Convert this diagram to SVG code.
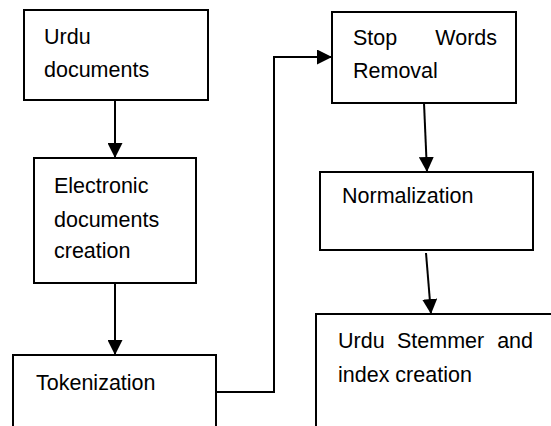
<svg xmlns="http://www.w3.org/2000/svg" width="551" height="426" viewBox="0 0 551 426">
<style>
.box{fill:#fff;stroke:#000;stroke-width:2}
.t{font-family:"Liberation Sans",Arial,sans-serif;font-size:21.5px;fill:#000}
.c{fill:none;stroke:#000;stroke-width:2}
</style>
<defs>
<marker id="ah" markerWidth="15" markerHeight="15" refX="15" refY="7.5" orient="auto" markerUnits="userSpaceOnUse">
<path d="M0,0 L15,7.5 L0,15 Z" fill="#000"/>
</marker>
</defs>
<rect width="551" height="426" fill="#fff"/>
<g id="connectors">
<line class="c" x1="115" y1="100" x2="115" y2="158" marker-end="url(#ah)"/>
<line class="c" x1="115" y1="283" x2="115" y2="355" marker-end="url(#ah)"/>
<polyline class="c" points="216,392 274,392 274,57 332,57" marker-end="url(#ah)"/>
<line class="c" x1="424" y1="103" x2="427" y2="172" marker-end="url(#ah)"/>
<line class="c" x1="426" y1="253" x2="431" y2="314" marker-end="url(#ah)"/>
</g>
<g id="urdu-documents">
<rect class="box" x="24" y="10" width="184" height="90"/>
<text class="t" x="44" y="44">Urdu</text>
<text class="t" x="44" y="77">documents</text>
</g>
<g id="electronic-documents">
<rect class="box" x="34" y="158" width="162" height="125"/>
<text class="t" x="54" y="193">Electronic</text>
<text class="t" x="54" y="227">documents</text>
<text class="t" x="54" y="258">creation</text>
</g>
<g id="tokenization">
<rect class="box" x="13" y="355" width="203" height="100"/>
<text class="t" x="36" y="390">Tokenization</text>
</g>
<g id="stop-words">
<rect class="box" x="332" y="12" width="184" height="91"/>
<text class="t" x="353" y="45">Stop</text>
<text class="t" x="497" y="45" text-anchor="end">Words</text>
<text class="t" x="353" y="78">Removal</text>
</g>
<g id="normalization">
<rect class="box" x="320" y="172" width="213" height="78"/>
<text class="t" x="342" y="203">Normalization</text>
</g>
<g id="stemmer">
<rect class="box" x="316" y="314" width="260" height="140"/>
<text class="t" x="338" y="348">Urdu</text>
<text class="t" x="397" y="348">Stemmer</text>
<text class="t" x="533" y="348" text-anchor="end">and</text>
<text class="t" x="338" y="382">index creation</text>
</g>
</svg>
